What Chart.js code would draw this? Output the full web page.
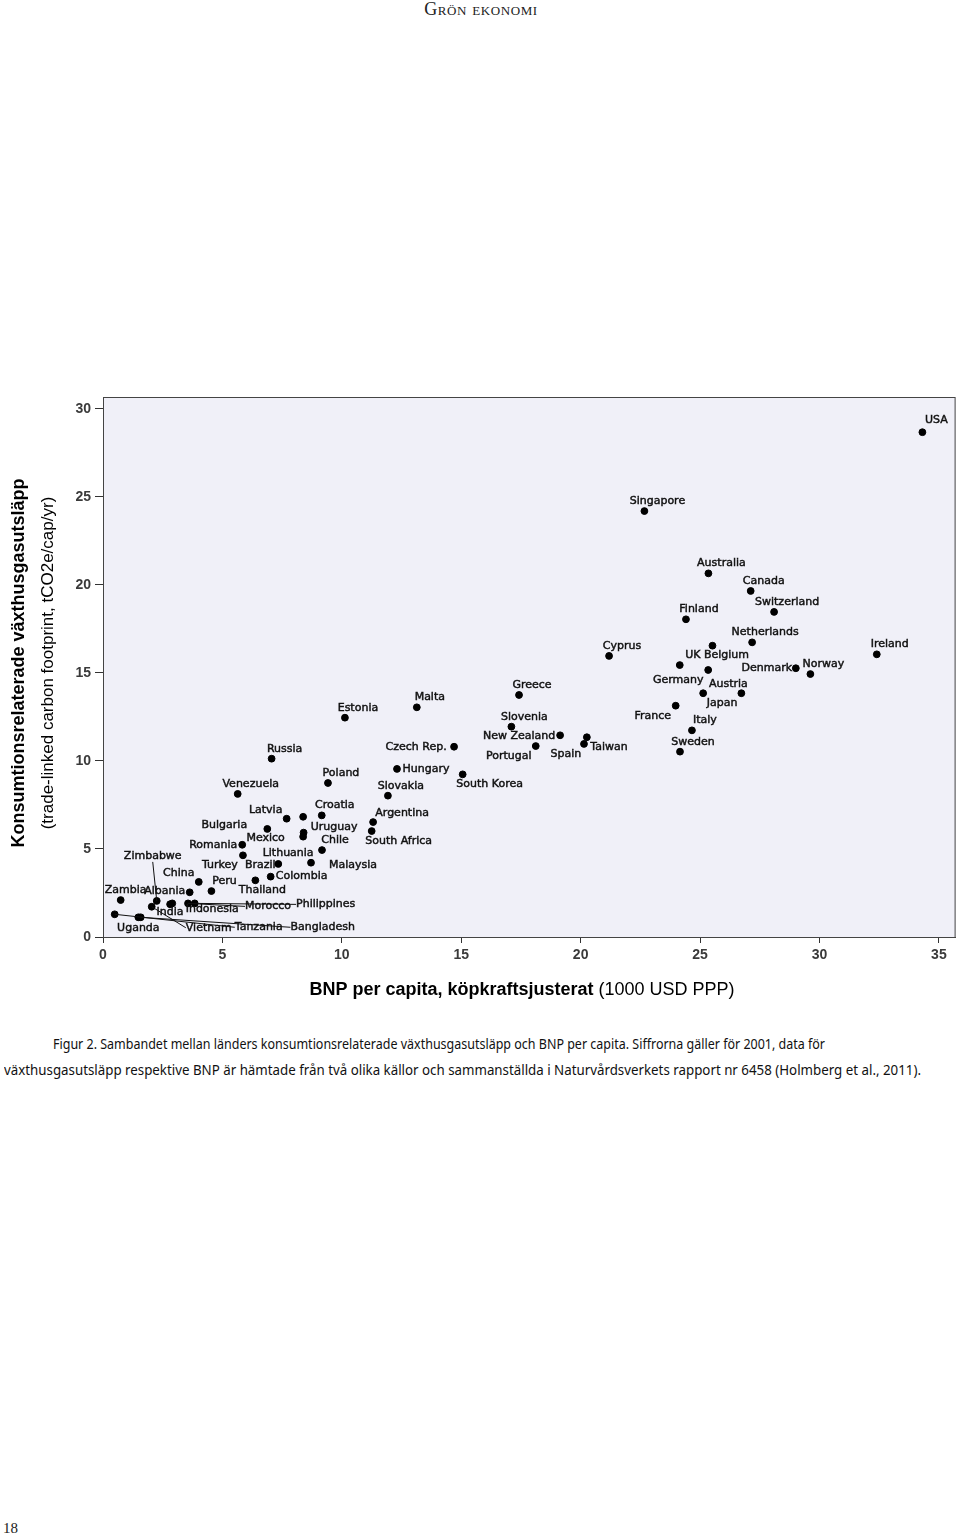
<!DOCTYPE html>
<html>
<head>
<meta charset="utf-8">
<script src="https://cdn.jsdelivr.net/npm/chart.js@4"></script>
<style>
  body {margin: 0; background: #fff; width: 960px; height: 1538px; position: relative; overflow: hidden;}
  #header {position: absolute; top: -1px; left: 0; width: 962px; text-align: center; font-family: "Liberation Serif", serif; font-variant: small-caps; font-size: 18px; letter-spacing: 0.6px; color: #222;}
  #wrap {position: absolute; left: 0; top: 380px; width: 960px; height: 640px;}
  .cap {position: absolute; white-space: nowrap; font-family: "Noto Sans", sans-serif; font-size: 14.5px; line-height: 20px; color: #111; transform-origin: left center;}
  #page {position: absolute; left: 3px; top: 1520px; font-family: "Liberation Serif", serif; font-size: 15px; color: #222;}
</style>
</head>
<body>
<div id="header">Grön ekonomi</div>
<div id="wrap"><canvas id="grafico" width="960" height="640"></canvas></div>
<div class="cap" id="cap1" style="left:53px; top:1033px;" data-w="772">Figur 2. Sambandet mellan länders konsumtionsrelaterade växthusgasutsläpp och BNP per capita. Siffrorna gäller för 2001, data för</div>
<div class="cap" id="cap2" style="left:4px; top:1059px;" data-w="917">växthusgasutsläpp respektive BNP är hämtade från två olika källor och sammanställda i Naturvårdsverkets rapport nr 6458 (Holmberg et al., 2011).</div>
<div id="page">18</div>
<script>
const countries = ['USA', 'Singapore', 'Australia', 'Canada', 'Switzerland', 'Finland', 'Netherlands', 'Cyprus', 'Ireland',
  'Belgium', 'UK', 'Germany', 'Denmark', 'Norway', 'Japan', 'Austria', 'France', 'Italy', 'Sweden',
  'Greece', 'Estonia', 'Malta', 'Slovenia', 'New Zealand', 'Portugal', 'Spain', 'Taiwan', 'Czech Rep.', 'Hungary',
  'South Korea', 'Slovakia', 'Poland', 'Russia', 'Venezuela', 'Latvia', 'Croatia', 'Argentina', 'South Africa',
  'Uruguay', 'Mexico', 'Lithuania', 'Bulgaria', 'Romania', 'Turkey', 'Brazil', 'Malaysia', 'Chile', 'Colombia',
  'Thailand', 'Peru', 'China', 'Albania', 'Morocco', 'Philippines', 'India', 'Indonesia', 'Zimbabwe', 'Zambia',
  'Vietnam', 'Uganda', 'Bangladesh', 'Tanzania'];
const bnp = [34.31, 22.67, 25.35, 27.12, 28.10, 24.41, 27.18, 21.19, 32.40,
  25.52, 24.15, 25.34, 29.01, 29.62, 25.13, 26.73, 23.98, 24.66, 24.16,
  17.42, 10.13, 13.14, 17.10, 19.14, 18.12, 20.26, 20.14, 14.70, 12.31,
  15.06, 11.93, 9.42, 7.06, 5.64, 7.69, 9.16, 11.31, 11.25,
  8.38, 8.40, 8.38, 6.88, 5.83, 5.86, 7.34, 8.71, 9.17, 7.02,
  6.38, 4.54, 4.01, 3.63, 3.56, 3.84, 2.81, 2.90, 2.25, 0.74,
  2.04, 1.48, 1.58, 0.49];
const utslapp = [28.68, 24.20, 20.66, 19.66, 18.47, 18.05, 16.74, 15.97, 16.06,
  16.55, 15.45, 15.17, 15.27, 14.94, 13.85, 13.85, 13.14, 11.74, 10.53,
  13.75, 12.46, 13.05, 11.95, 11.46, 10.85, 11.35, 10.97, 10.81, 9.55,
  9.24, 8.03, 8.75, 10.13, 8.13, 6.72, 6.91, 6.53, 6.02,
  6.83, 5.93, 5.70, 6.14, 5.24, 4.64, 4.15, 4.22, 4.94, 3.43,
  3.22, 2.61, 3.13, 2.54, 1.91, 1.91, 1.86, 1.91, 2.05, 2.10,
  1.72, 1.12, 1.12, 1.29];
const xTicks = [0, 5, 10, 15, 20, 25, 30, 35];
const yTicks = [0, 5, 10, 15, 20, 25, 30];

// where each name sits relative to its dot (px, label centre); the rest use the default
const standardLabel = [13, -10];
const labelOffset = {
  'USA': [14, -12], 'Belgium': [14, 9], 'Germany': [-30, 10], 'Austria': [-13, -9], 'Japan': [19, 10],
  'France': [-23, 10], 'Denmark': [-29, 0], 'New Zealand': [-41, 1], 'Portugal': [-27, 10], 'Spain': [-21, 17],
  'Taiwan': [25, 3], 'Czech Rep.': [-38, 0], 'Hungary': [29, 0], 'South Korea': [27, 10], 'Latvia': [-21, -9],
  'Bulgaria': [-43, -4], 'Uruguay': [31, 10], 'Mexico': [-38, 6], 'Argentina': [29, -9], 'South Africa': [27, 10],
  'Lithuania': [-15, 16], 'Romania': [-29, 0], 'Turkey': [-23, 10], 'Brazil': [-18, 1], 'Malaysia': [42, 2],
  'Colombia': [31, 0], 'Thailand': [7, 10], 'China': [-20, -9], 'Albania': [-25, -1], 'Zambia': [5, -10],
  'Zimbabwe': [-4, -45], 'India': [0, 8], 'Indonesia': [40, 6], 'Morocco': [80, 3], 'Philippines': [131, 1],
  'Uganda': [0, 11], 'Vietnam': [57, 21], 'Tanzania': [144, 13], 'Bangladesh': [182, 10]
};
const leaders = {'Zimbabwe': 'bottom', 'Morocco': 'left', 'Philippines': 'left', 'Vietnam': 'left', 'Tanzania': 'left', 'Bangladesh': 'left'};

const etiquetas = {
  id: 'etiquetas',
  beforeDraw(chart) {
    const {ctx, chartArea: a} = chart;
    ctx.save();
    ctx.fillStyle = '#f0f0f8';
    ctx.fillRect(a.left, a.top, a.right - a.left, a.bottom - a.top);
    ctx.restore();
  },
  afterDraw(chart) {
    const {ctx, chartArea: a} = chart;
    ctx.save();
    ctx.strokeStyle = '#444';
    ctx.lineWidth = 1;
    ctx.strokeRect(a.left + 0.5, a.top + 0.5, a.right - a.left - 1, a.bottom - a.top);

    ctx.font = '11px "DejaVu Sans"';
    ctx.fillStyle = '#111';
    ctx.strokeStyle = '#111';
    ctx.textAlign = 'center';
    ctx.textBaseline = 'middle';
    chart.getDatasetMeta(0).data.forEach((pt, i) => {
      const name = countries[i];
      const off = labelOffset[name] || standardLabel;
      const cx = pt.x + off[0], cy = pt.y + off[1];
      ctx.lineWidth = 0.45;
      ctx.fillText(name, cx, cy);
      ctx.strokeText(name, cx, cy);
      if (leaders[name]) {
        const w = ctx.measureText(name).width;
        ctx.lineWidth = 1;
        ctx.beginPath();
        ctx.moveTo(pt.x, pt.y);
        if (leaders[name] === 'left') ctx.lineTo(cx - w / 2, cy);
        else ctx.lineTo(cx, cy + 6);
        ctx.stroke();
      }
    });

    // axis titles
    ctx.fillStyle = '#000';
    ctx.save();
    ctx.translate(19, 283);
    ctx.rotate(-Math.PI / 2);
    ctx.font = 'bold 18px "Liberation Sans"';
    ctx.fillText('Konsumtionsrelaterade växthusgasutsläpp', 0, 0);
    ctx.translate(0, 29);
    ctx.font = '17px "Liberation Sans"';
    ctx.fillText('(trade-linked carbon footprint, tCO2e/cap/yr)', 0, 0);
    ctx.restore();

    const bold = 'BNP per capita, köpkraftsjusterat', rest = ' (1000 USD PPP)';
    ctx.font = 'bold 18px "Liberation Sans"';
    const wb = ctx.measureText(bold).width;
    ctx.font = '18px "Liberation Sans"';
    const wr = ctx.measureText(rest).width;
    const x0 = 522 - (wb + wr) / 2;
    ctx.textAlign = 'left';
    ctx.font = 'bold 18px "Liberation Sans"';
    ctx.fillText(bold, x0, 610);
    ctx.font = '18px "Liberation Sans"';
    ctx.fillText(rest, x0 + wb, 610);
    ctx.restore();
  }
};

const tickFont = {family: '"Liberation Sans"', size: 14, weight: 'bold'};
new Chart(document.getElementById('grafico'), {
  type: 'scatter',
  data: {
    datasets: [{
      data: countries.map((c, i) => ({x: bnp[i], y: utslapp[i]})),
      backgroundColor: '#000',
      borderColor: '#000',
      pointRadius: 3.4,
      pointHoverRadius: 3.4
    }]
  },
  options: {
    responsive: false,
    animation: false,
    devicePixelRatio: 1,
    layout: {padding: {left: 60, top: 17, right: 4, bottom: 53}},
    plugins: {legend: {display: false}, tooltip: {enabled: false}},
    scales: {
      x: {
        min: 0, max: 35.7,
        afterBuildTicks: s => { s.ticks = xTicks.map(v => ({value: v})); },
        afterFit: s => { s.height = 30; },
        grid: {drawOnChartArea: false, tickLength: 6, color: '#333'},
        border: {color: '#444'},
        ticks: {font: tickFont, color: '#3a3a3a', padding: 4, maxRotation: 0}
      },
      y: {
        min: 0, max: 30.68,
        afterBuildTicks: s => { s.ticks = yTicks.map(v => ({value: v})); },
        afterFit: s => { s.width = 43; },
        grid: {drawOnChartArea: false, tickLength: 8, color: '#333'},
        border: {color: '#444'},
        ticks: {font: tickFont, color: '#3a3a3a', padding: 4}
      }
    }
  },
  plugins: [etiquetas]
});

document.querySelectorAll('.cap').forEach(el => {
  const w = el.getBoundingClientRect().width;
  el.style.transform = 'scaleX(' + (el.dataset.w / w) + ')';
});
</script>
</body>
</html>
